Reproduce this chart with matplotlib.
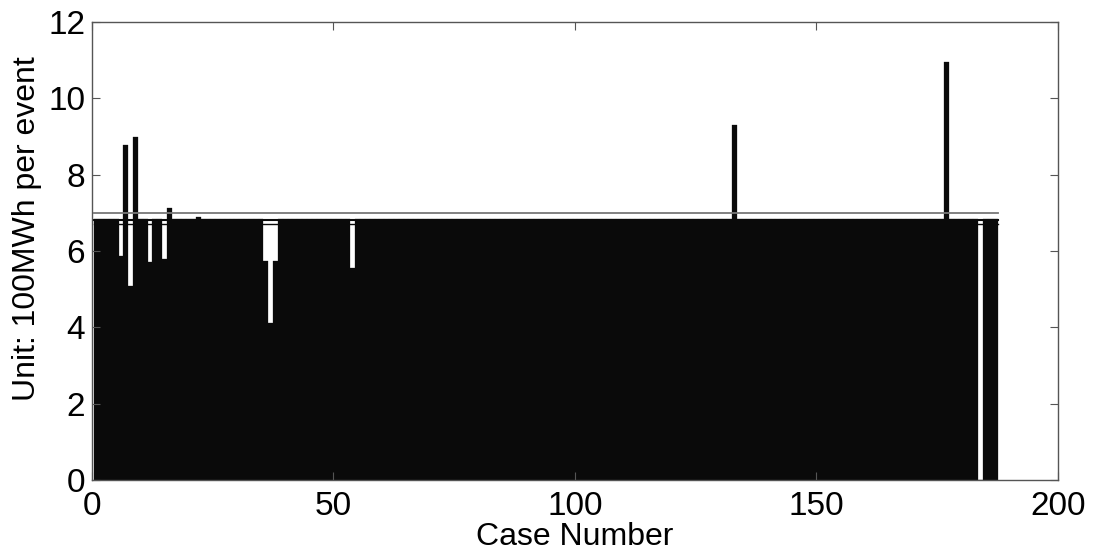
import numpy as np
import matplotlib.pyplot as plt

# datos
n_cases = 187
base_level = 6.85          # nivel de la mayoria de los casos
spike_cases = [7, 9, 16, 22, 133, 177]
spike_values = [8.77, 9.0, 7.12, 6.9, 9.29, 10.95]
low_cases = [6, 8, 12, 15, 36, 37, 38, 54, 184]
low_values = [5.86, 5.08, 5.71, 5.79, 5.75, 4.11, 5.75, 5.56, 0.0]
mean_level = 7.0
inner_levels = [6.82, 6.70]

cases = np.arange(1, n_cases + 1)
values = np.full(n_cases, base_level)
for c, v in zip(spike_cases, spike_values):
    values[c - 1] = v
for c, v in zip(low_cases, low_values):
    values[c - 1] = v

plt.rcParams['font.family'] = ['Liberation Sans', 'DejaVu Sans']

fig = plt.figure(figsize=(10.94, 5.57), dpi=100)
ax = fig.add_axes([0.0841, 0.138, 0.8829, 0.8225])

ax.bar(cases, values, width=1.0, color='#0a0a0a', edgecolor='#0a0a0a', linewidth=0.2)

# lineas horizontales
ax.plot([0.5, n_cases + 0.5], [mean_level, mean_level], color='#777777', lw=1.3)
ax.plot([0.5, n_cases + 0.5], [inner_levels[0], inner_levels[0]], color='#0a0a0a', lw=1.5)
ax.plot([0.5, n_cases + 0.5], [inner_levels[1], inner_levels[1]], color='#0a0a0a', lw=1.0)

ax.set_xlim(0, 200)
ax.set_ylim(0, 12)
ax.set_xticks([0, 50, 100, 150, 200])
ax.set_yticks([0, 2, 4, 6, 8, 10, 12])
ax.tick_params(direction='in', top=True, right=True, length=6, width=0.8,
               color='#555555', labelsize=24)
ax.tick_params(axis='x', pad=8)
ax.tick_params(axis='y', pad=5)
for s in ax.spines.values():
    s.set_color('#555555')
    s.set_linewidth(1.0)

ax.set_xlabel('Case Number', fontsize=23, labelpad=0)
ax.set_ylabel('Unit: 100MWh per event', fontsize=23)
ax.yaxis.set_label_coords(-0.052, 0.55)

plt.savefig('out.png', dpi=100)
